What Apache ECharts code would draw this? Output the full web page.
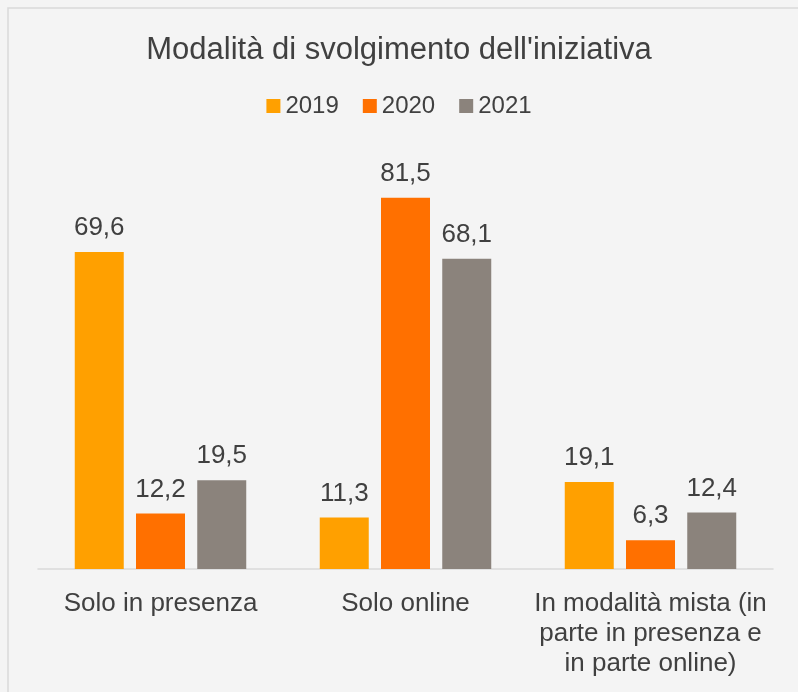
<!DOCTYPE html>
<html>
<head>
<meta charset="utf-8">
<script src="https://cdn.jsdelivr.net/npm/echarts@6/dist/echarts.min.js"></script>
<style>
	html, body { margin: 0; padding: 0; background: #f4f4f4; }
	#chart-container { width: 798px; height: 692px; }
</style>
</head>
<body>
<div id="chart-container"></div>
<script>
var categories = ['Solo in presenza', 'Solo online', 'In modalità mista (in\nparte in presenza e\nin parte online)'];
var years = ['2019', '2020', '2021'];
var values2019 = [69.6, 11.3, 19.1];
var values2020 = [12.2, 81.5, 6.3];
var values2021 = [19.5, 68.1, 12.4];
var colors = ['#ffa000', '#ff7000', '#8b837c'];

var textColor = '#404040';
var font = 'Liberation Sans';

var dom = document.getElementById('chart-container');
var myChart = echarts.init(dom, null, {
	renderer: 'canvas'
});

var series = [values2019, values2020, values2021].map((vals, i) => {
	return {
		name: years[i],
		type: 'bar',
		data: vals,
		barWidth: 49,
		barGap: '25%',
		itemStyle: { color: colors[i] },
		label: {
			show: true,
			position: 'top',
			distance: 11,
			color: textColor,
			fontFamily: font,
			fontSize: 26,
			formatter: p => String(p.value).replace('.', ',')
		}
	};
});

var option = {
	backgroundColor: '#f4f4f4',
	animation: false,
	graphic: [{
		type: 'rect',
		shape: { x: 8, y: 8, width: 820, height: 720 },
		style: { fill: 'none', stroke: '#d9d9d9', lineWidth: 1.5 },
		silent: true
	}],
	title: {
		text: "Modalità di svolgimento dell'iniziativa",
		left: 'center',
		top: 30,
		textStyle: {
			color: textColor,
			fontFamily: font,
			fontSize: 31,
			fontWeight: 'normal'
		}
	},
	legend: {
		top: 89,
		left: 'center',
		itemWidth: 14,
		itemHeight: 14,
		itemGap: 24,
		icon: 'rect',
		data: years,
		textStyle: {
			color: textColor,
			fontFamily: font,
			fontSize: 24
		}
	},
	grid: {
		left: 38,
		right: 25,
		top: 159,
		bottom: 123,
		containLabel: false
	},
	xAxis: {
		type: 'category',
		data: categories,
		axisLine: { lineStyle: { color: '#d9d9d9', width: 1.5 } },
		axisTick: { show: false },
		axisLabel: {
			color: textColor,
			fontFamily: font,
			fontSize: 26,
			lineHeight: 30,
			margin: 20,
			interval: 0
		}
	},
	yAxis: {
		type: 'value',
		min: 0,
		max: 90,
		show: false,
		splitLine: { show: false }
	},
	series: series
};

myChart.setOption(option);
window.addEventListener('resize', myChart.resize);
</script>
</body>
</html>
